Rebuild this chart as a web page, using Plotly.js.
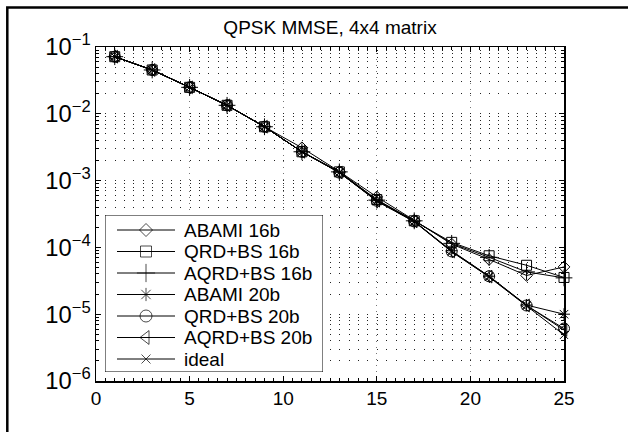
<!DOCTYPE html>
<html>
<head>
<meta charset="utf-8">
<script src="https://cdn.plot.ly/plotly-3.0.1.min.js"></script>
<style>
  html, body { margin: 0; padding: 0; background: #fff; }
  #chart { width: 628px; height: 432px; }
</style>
</head>
<body>
<div id="chart"></div>
<script>
const snr = [1, 3, 5, 7, 9, 11, 13, 15, 17, 19, 21, 23, 25];

const abami16 = [0.0716, 0.0453, 0.0249, 0.0134, 0.0064, 0.0031, 0.00137, 0.00057, 0.000255, 0.000112, 0.000066, 0.000038, 0.000051];
const qrd16   = [0.0716, 0.0453, 0.0249, 0.0134, 0.0064, 0.0027, 0.00135, 0.00052, 0.000250, 0.000119, 0.000075, 0.000054, 0.0000355];
const aqrd16  = [0.0716, 0.0453, 0.0249, 0.0134, 0.0064, 0.0027, 0.00135, 0.00051, 0.000250, 0.000115, 0.000071, 0.000043, 0.0000350];
const abami20 = [0.0716, 0.0453, 0.0249, 0.0134, 0.0064, 0.0027, 0.00133, 0.00050, 0.000245, 0.000089, 0.0000370, 0.0000137, 0.0000100];
const qrd20   = [0.0716, 0.0453, 0.0249, 0.0134, 0.0064, 0.0027, 0.00132, 0.00050, 0.000245, 0.000087, 0.0000370, 0.0000135, 0.0000061];
const aqrd20  = [0.0716, 0.0453, 0.0249, 0.0134, 0.0064, 0.0027, 0.00132, 0.00050, 0.000245, 0.000087, 0.0000365, 0.0000135, 0.0000058];
const ideal   = [0.0716, 0.0453, 0.0249, 0.0134, 0.0064, 0.0027, 0.00132, 0.00049, 0.000242, 0.000086, 0.0000360, 0.0000133, 0.0000049];

const seriesNames = ["ABAMI 16b", "QRD+BS 16b", "AQRD+BS 16b", "ABAMI 20b", "QRD+BS 20b", "AQRD+BS 20b", "ideal"];
const seriesData = [abami16, qrd16, aqrd16, abami20, qrd20, aqrd20, ideal];
const symbols = ["diamond-open", "square-open", "cross-thin-open", "asterisk-open", "circle-open", "triangle-left-open", "x-thin-open"];
const sizes = [9, 10, 12, 10, 11, 11, 8];

const FONT = "Liberation Sans, Arial, Helvetica, sans-serif";

// main data traces
const traces = seriesNames.map((name, i) => ({
  x: snr,
  y: seriesData[i],
  name: name,
  type: "scatter",
  mode: "lines+markers",
  showlegend: false,
  cliponaxis: false,
  xaxis: "x", yaxis: "y",
  line: { color: "#000", width: 1 },
  marker: { symbol: symbols[i], size: sizes[i], color: "#000", line: { color: "#000", width: 1 } }
}));

// legend box drawn in its own small subplot (units = pixels inside the box)
const legW = 218, legH = 157;
const rowTop = 15, rowStep = 21.5;
const sampleX0 = 12, sampleX1 = 70, textX = 77;
const annotations = [];
seriesNames.forEach((name, i) => {
  const ry = rowTop + rowStep * i;
  traces.push({
    x: [sampleX0, (sampleX0 + sampleX1) / 2, sampleX1],
    y: [ry, ry, ry],
    type: "scatter",
    mode: "lines+markers",
    showlegend: false,
    xaxis: "x2", yaxis: "y2",
    cliponaxis: false,
    line: { color: "#000", width: 1 },
    marker: { symbol: symbols[i], size: [0, sizes[i] + 1, 0], color: "#000", line: { color: "#000", width: 1 } }
  });
  annotations.push({
    xref: "x2", yref: "y2", x: textX, y: ry,
    xanchor: "left", yanchor: "middle",
    text: name, showarrow: false,
    font: { family: FONT, size: 19, color: "#000" }
  });
});

const hDots = "1px,8.36px";

const layout = {
  width: 628,
  height: 432,
  margin: { l: 96, r: 64, t: 47, b: 51 },
  paper_bgcolor: "#fff",
  plot_bgcolor: "#fff",
  font: { family: FONT, size: 19, color: "#000" },
  showlegend: false,
  title: {
    text: "QPSK MMSE, 4x4 matrix",
    font: { family: FONT, size: 19, color: "#000" },
    x: 0.5, xref: "paper", xanchor: "center",
    y: 1 - 27 / 432, yref: "container", yanchor: "middle"
  },
  xaxis: {
    domain: [0, 1],
    range: [0, 25],
    dtick: 5,
    tick0: 0,
    ticks: "inside",
    ticklen: 5,
    tickcolor: "#000",
    showline: true,
    linecolor: "#000",
    linewidth: 1.5,
    mirror: "allticks",
    showgrid: true,
    gridcolor: "#777",
    griddash: "1px,5px",
    gridwidth: 1,
    zeroline: false,
    tickfont: { family: FONT, size: 19 },
    minor: { dtick: 0.5, ticks: "inside", ticklen: 3, tickcolor: "#000", showgrid: false }
  },
  yaxis: {
    domain: [0, 1],
    type: "log",
    range: [-6, -1],
    dtick: 1,
    ticks: "inside",
    ticklen: 5,
    tickcolor: "#000",
    exponentformat: "power",
    showexponent: "all",
    showline: true,
    linecolor: "#000",
    linewidth: 1.5,
    mirror: "allticks",
    showgrid: true,
    gridcolor: "#222",
    griddash: hDots,
    gridwidth: 1,
    zeroline: false,
    tickfont: { family: FONT, size: 19 },
    minor: { dtick: "D1", ticks: "inside", ticklen: 3, tickcolor: "#000", showgrid: true, gridcolor: "#222", griddash: hDots, gridwidth: 1 }
  },
  xaxis2: {
    domain: [(105 - 96) / 468, (105 + legW - 96) / 468],
    range: [0, legW],
    anchor: "y2",
    visible: false, showgrid: false, zeroline: false, fixedrange: true
  },
  yaxis2: {
    domain: [(381 - 215 - legH) / 334, (381 - 215) / 334],
    range: [legH, 0],
    anchor: "x2",
    visible: false, showgrid: false, zeroline: false, fixedrange: true
  },
  annotations: annotations,
  shapes: [
    {
      type: "rect",
      xref: "paper", yref: "paper",
      x0: (7.3 - 96) / 468, x1: 1.3,
      y0: -0.3, y1: (381 - 7.5) / 334,
      line: { color: "#000", width: 2.5 },
      fillcolor: "rgba(0,0,0,0)",
      layer: "below"
    },
    {
      type: "rect",
      xref: "x2", yref: "y2",
      x0: 0, x1: legW, y0: 0, y1: legH,
      line: { color: "#000", width: 1 },
      fillcolor: "#fff",
      layer: "between"
    }
  ]
};

Plotly.newPlot("chart", traces, layout, { displayModeBar: false, staticPlot: true });
</script>
</body>
</html>
